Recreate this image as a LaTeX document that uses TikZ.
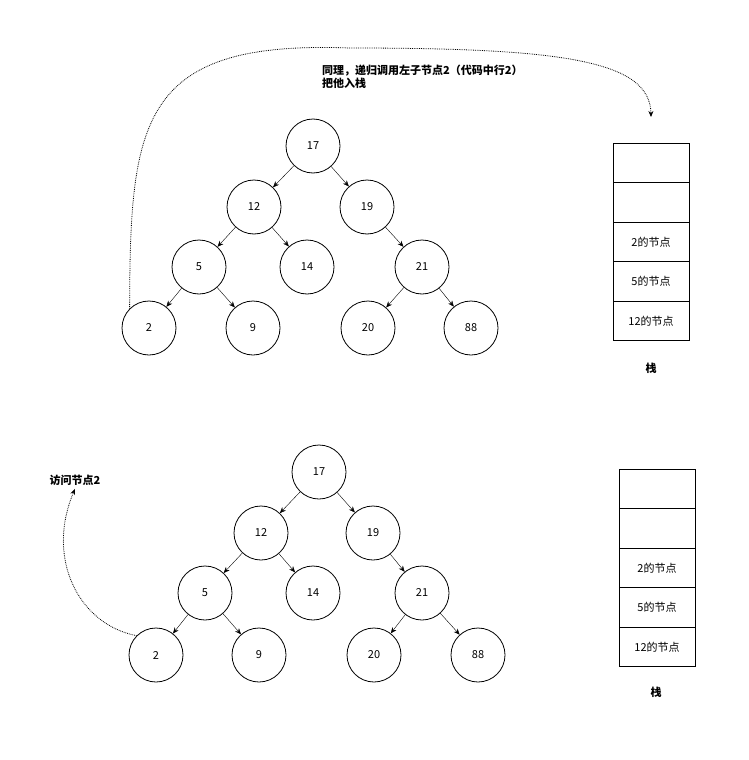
\documentclass[tikz,border=0pt]{standalone}
\usepackage{fontspec}
\setmainfont{Noto Sans CJK SC}
\usetikzlibrary{arrows.meta}
\begin{document}
\begin{tikzpicture}[x=1pt,y=-1pt,
 tn/.style={circle,draw,thick,minimum size=54pt,inner sep=0pt,font=\fontsize{11}{13}\selectfont},
 ed/.style={-{Stealth[length=6pt,width=5pt]},thin},
 cell/.style={draw,thick,minimum width=76pt,minimum height=39.5pt,inner sep=0pt,font=\fontsize{11}{13}\selectfont},
 lab/.style={font=\fontsize{11}{13}\selectfont\bfseries,align=left},
 dt/.style={densely dotted,thick,-{Stealth[length=6pt,width=5pt]}}]
\useasboundingbox (0,0) rectangle (748,760);
% top tree
\node[tn] (a17) at (313,146) {17};
\node[tn] (a12) at (254,207) {12};
\node[tn] (a19) at (367,207) {19};
\node[tn] (a5) at (199,267) {5};
\node[tn] (a14) at (307,267) {14};
\node[tn] (a21) at (422,267) {21};
\node[tn] (a2) at (149,328) {2};
\node[tn] (a9) at (253,328) {9};
\node[tn] (a20) at (368,328) {20};
\node[tn] (a88) at (471,328) {88};
\foreach \p/\c in {a17/a12,a17/a19,a12/a5,a12/a14,a19/a21,a5/a2,a5/a9,a21/a20,a21/a88} \draw[ed] (\p) -- (\c);
% bottom tree
\node[tn] (b17) at (319,472) {17};
\node[tn] (b12) at (261,533) {12};
\node[tn] (b19) at (373,533) {19};
\node[tn] (b5) at (205,593) {5};
\node[tn] (b14) at (313,593) {14};
\node[tn] (b21) at (422,593) {21};
\node[tn] (b2) at (156,655) {2};
\node[tn] (b9) at (259,655) {9};
\node[tn] (b20) at (374,655) {20};
\node[tn] (b88) at (478,655) {88};
\foreach \p/\c in {b17/b12,b17/b19,b12/b5,b12/b14,b19/b21,b5/b2,b5/b9,b21/b20,b21/b88} \draw[ed] (\p) -- (\c);
% stacks
\node[cell] (s1) at (651,163) {};
\node[cell] (s2) at (651,202.5) {};
\node[cell] (s3) at (651,242) {2的节点};
\node[cell] (s4) at (651,281.5) {5的节点};
\node[cell] (s5) at (651,321) {12的节点};
\node[lab] (st1) at (651,368) {栈};
\node[cell] (t1) at (657,489) {};
\node[cell] (t2) at (657,528.5) {};
\node[cell] (t3) at (657,568) {2的节点};
\node[cell] (t4) at (657,607.5) {5的节点};
\node[cell] (t5) at (657,647) {12的节点};
\node[lab] (st2) at (656,692) {栈};
% annotations
\node[lab,anchor=north west,inner sep=0pt] (txt1) at (322,65) {同理，递归调用左子节点2（代码中行2）\\把他入栈};
\coordinate (p1) at (651,117);
\draw[dt] (a2.north west) .. controls (130,120) and (140,40) .. (350,48) .. controls (560,48) and (650,60) .. (p1);
\node[lab] (txt2) at (75,480) {访问节点2};
\draw[dt] (b2.north west) .. controls (80,625) and (45,560) .. (txt2.south);
\end{tikzpicture}
\end{document}
